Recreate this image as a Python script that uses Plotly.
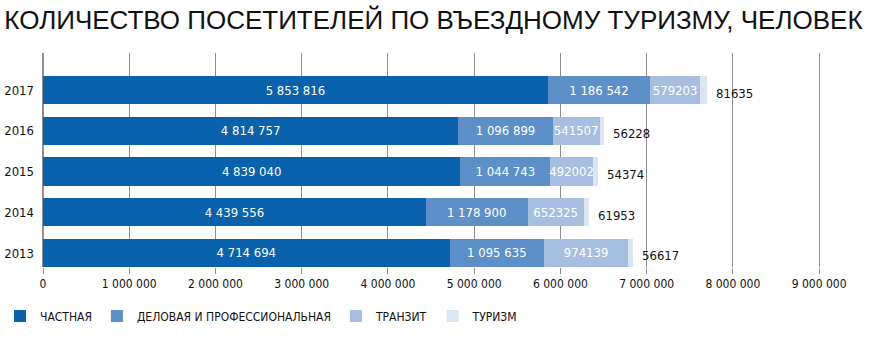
import plotly.graph_objects as go

years = ["2013", "2014", "2015", "2016", "2017"]
chastnaya = [4714694, 4439556, 4839040, 4814757, 5853816]
delovaya = [1095635, 1178900, 1044743, 1096899, 1186542]
tranzit = [974139, 652325, 492002, 541507, 579203]
turizm = [56617, 61953, 54374, 56228, 81635]
series_names = ["ЧАСТНАЯ", "ДЕЛОВАЯ И ПРОФЕССИОНАЛЬНАЯ", "ТРАНЗИТ", "ТУРИЗМ"]
tick_vals = [0, 1000000, 2000000, 3000000, 4000000, 5000000, 6000000, 7000000, 8000000, 9000000]
tick_text = ["0", "1 000 000", "2 000 000", "3 000 000", "4 000 000", "5 000 000",
             "6 000 000", "7 000 000", "8 000 000", "9 000 000"]

colors = ["#0962AB", "#5D90C8", "#A6BFE1", "#DBE5F3"]
FONT = "DejaVu Sans Condensed, Liberation Sans Narrow, sans-serif"
TFONT = "Liberation Sans, Arial, sans-serif"


def spaced(v):
    return f"{v:,}".replace(",", " ")


fig = go.Figure()
data = [chastnaya, delovaya, tranzit, turizm]
texts = [[spaced(v) for v in chastnaya], [spaced(v) for v in delovaya],
         [str(v) for v in tranzit], None]
for i, (name, vals) in enumerate(zip(series_names, data)):
    fig.add_trace(go.Bar(
        y=years, x=vals, orientation="h", name=name,
        marker=dict(color=colors[i], line=dict(width=0)),
        text=texts[i], textposition="inside" if texts[i] else "none",
        insidetextanchor="middle", constraintext="none",
        textfont=dict(color="white", size=13, family=FONT),
        hoverinfo="x+name",
    ))

# labels for the last (thin) segment, placed right of each stacked bar
for idx, (a, b, c, d) in enumerate(zip(chastnaya, delovaya, tranzit, turizm)):
    fig.add_annotation(x=a + b + c + d, y=idx, xref="x", yref="y",
                       text=str(d), showarrow=False,
                       xanchor="left", yanchor="middle", xshift=7, yshift=-3,
                       font=dict(size=13, color="#111111", family=FONT))

fig.update_layout(
    barmode="stack",
    bargap=0.31,
    width=870, height=337,
    margin=dict(l=43, r=25, t=53, b=70, autoexpand=False),
    paper_bgcolor="white", plot_bgcolor="white",
    font=dict(family=FONT, color="#111111"),
    title=dict(text="КОЛИЧЕСТВО ПОСЕТИТЕЛЕЙ ПО ВЪЕЗДНОМУ ТУРИЗМУ, ЧЕЛОВЕК",
               x=0.005, xanchor="left", y=0.94, yanchor="middle",
               font=dict(size=26, family=TFONT, color="#111111")),
    showlegend=True,
    legend=dict(orientation="h", xref="container", yref="container",
                x=0.0, xanchor="left", y=0.062, yanchor="middle",
                font=dict(size=12, family=FONT), itemwidth=30,
                traceorder="normal"),
    xaxis=dict(range=[0, 9300000], tickvals=tick_vals, ticktext=tick_text,
               showgrid=True, gridcolor="#8f8f8f", gridwidth=1,
               zeroline=True, zerolinecolor="#8f8f8f",
               ticks="outside", ticklen=6, tickcolor="#8f8f8f",
               tickfont=dict(size=12, family=FONT)),
    yaxis=dict(type="category", range=[-0.344, 4.91], showgrid=False, ticks="",
               ticklabelstandoff=8,
               tickfont=dict(size=13, family=FONT)),
)

fig.write_html("out.html")
